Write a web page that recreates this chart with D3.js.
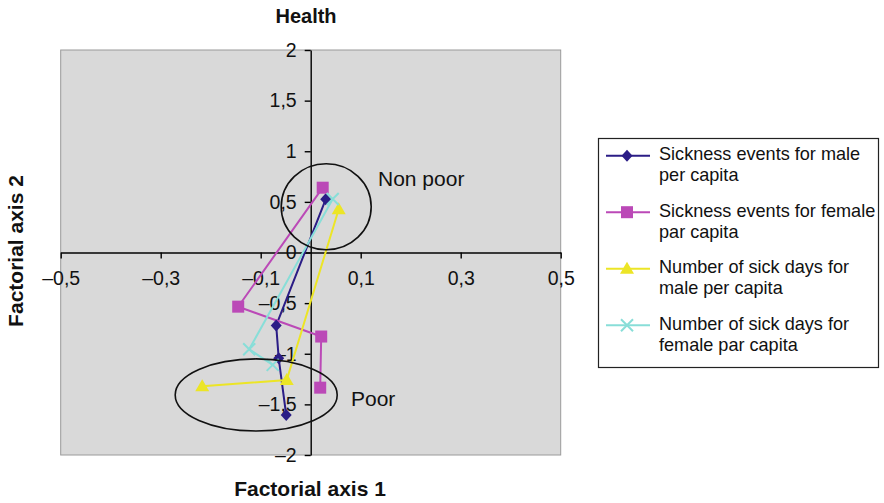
<!DOCTYPE html>
<html>
<head>
<meta charset="utf-8">
<script src="https://cdn.jsdelivr.net/npm/d3@7"></script>
<style>
  html, body { margin: 0; padding: 0; background: #fff; }
  svg { display: block; font-family: "Liberation Sans", Arial, Helvetica, sans-serif; }
</style>
</head>
<body>
<svg id="chart" width="884" height="503"></svg>
<script>
// Factorial plane coordinates for each health indicator (poor -> non poor groups)
const seriesNames = [
  ["Sickness events for male", "per capita"],
  ["Sickness events for female", "par capita"],
  ["Number of sick days for", "male per capita"],
  ["Number of sick days for", "female par capita"]
];
const maleEventsX   = [0.030, -0.069, -0.064, -0.049];
const maleEventsY   = [0.525, -0.720, -1.045, -1.605];
const femaleEventsX = [0.024, -0.145, 0.021, 0.019];
const femaleEventsY = [0.640, -0.535, -0.830, -1.335];
const maleDaysX     = [0.056, -0.048, -0.217];
const maleDaysY     = [0.427, -1.260, -1.320];
const femaleDaysX   = [0.044, -0.123, -0.076];
const femaleDaysY   = [0.528, -0.956, -1.110];

const xTicks = [-0.5, -0.3, -0.1, 0.1, 0.3, 0.5];
const yTicks = [2, 1.5, 1, 0.5, 0, -0.5, -1, -1.5, -2];

// Group annotations: [centre x, centre y, radius x, radius y] in axis units
const groupLabels = ["Non poor", "Poor"];
const groupEllipses = [
  [0.031, 0.452, 0.090, 0.425],
  [-0.109, -1.407, 0.162, 0.356]
];

const svg = d3.select("#chart");
const plot = { left: 60.7, right: 560.7, top: 50, bottom: 455 };

const x = d3.scaleLinear().domain([-0.5, 0.5]).range([plot.left, plot.right]);
const y = d3.scaleLinear().domain([-2, 2]).range([plot.bottom, plot.top]);

const fmt = v => v === 0 ? "0" : (v < 0 ? "\u2013" : "") + String(Math.abs(v)).replace(".", ",");

// plot background
svg.append("rect")
  .attr("x", plot.left).attr("y", plot.top)
  .attr("width", plot.right - plot.left).attr("height", plot.bottom - plot.top)
  .attr("fill", "#d9d9d9").attr("stroke", "#9a9a9a").attr("stroke-width", 1);

// axes crossing at the origin
const xAxis = svg.append("g")
  .attr("transform", `translate(0,${y(0)})`)
  .call(d3.axisBottom(x).tickValues(xTicks).tickFormat(fmt).tickSize(6).tickSizeOuter(0).tickPadding(12.5));
const yAxis = svg.append("g")
  .attr("transform", `translate(${x(0)},0)`)
  .call(d3.axisLeft(y).tickValues(yTicks).tickFormat(fmt).tickSize(6).tickSizeOuter(0).tickPadding(8));

[xAxis, yAxis].forEach(g => {
  g.select(".domain").attr("stroke", "#000").attr("stroke-width", 1.4);
  g.selectAll(".tick line").attr("stroke", "#000").attr("stroke-width", 1.4);
  g.selectAll(".tick text").attr("fill", "#111").style("font-size", "19.5px")
    .style("font-family", "'Liberation Sans', Arial, sans-serif");
});

// series
const series = [
  { xs: maleEventsX,   ys: maleEventsY,   color: "#2b1d86", marker: "diamond" },
  { xs: femaleEventsX, ys: femaleEventsY, color: "#bb49b7", marker: "square" },
  { xs: maleDaysX,     ys: maleDaysY,     color: "#ece526", marker: "triangle" },
  { xs: femaleDaysX,   ys: femaleDaysY,   color: "#88ded8", marker: "cross" }
];

const line = d3.line().x(d => x(d[0])).y(d => y(d[1]));

function drawMarker(g, type, cx, cy, color) {
  if (type === "diamond") {
    g.append("path").attr("d", `M${cx},${cy-6}L${cx+5.5},${cy}L${cx},${cy+6}L${cx-5.5},${cy}Z`).attr("fill", color);
  } else if (type === "square") {
    g.append("rect").attr("x", cx - 6).attr("y", cy - 6).attr("width", 12).attr("height", 12).attr("fill", color);
  } else if (type === "triangle") {
    g.append("path").attr("d", `M${cx},${cy-7}L${cx+7},${cy+5}L${cx-7},${cy+5}Z`).attr("fill", color);
  } else {
    g.append("path").attr("d", `M${cx-6},${cy-6}L${cx+6},${cy+6}M${cx+6},${cy-6}L${cx-6},${cy+6}`)
      .attr("stroke", color).attr("stroke-width", 2);
  }
}

const seriesLayer = svg.append("g");
series.forEach(s => {
  const pts = s.xs.map((v, i) => [v, s.ys[i]]);
  seriesLayer.append("path").datum(pts).attr("d", line)
    .attr("fill", "none").attr("stroke", s.color).attr("stroke-width", 2);
});
series.forEach(s => {
  s.xs.forEach((v, i) => drawMarker(seriesLayer, s.marker, x(v), y(s.ys[i]), s.color));
});

// group ellipses and labels
groupEllipses.forEach(e => {
  svg.append("ellipse")
    .attr("cx", x(e[0])).attr("cy", y(e[1]))
    .attr("rx", x(e[2]) - x(0)).attr("ry", y(0) - y(e[3]))
    .attr("fill", "none").attr("stroke", "#111").attr("stroke-width", 1.6);
});
svg.append("text").attr("x", 378).attr("y", 186).text(groupLabels[0])
  .attr("fill", "#111").style("font-size", "21px");
svg.append("text").attr("x", 351).attr("y", 406).text(groupLabels[1])
  .attr("fill", "#111").style("font-size", "21px");

// titles
svg.append("text").attr("x", 306).attr("y", 23).attr("text-anchor", "middle")
  .style("font-size", "20px").style("font-weight", "bold").attr("fill", "#111").text("Health");
svg.append("text").attr("x", 310).attr("y", 496).attr("text-anchor", "middle")
  .style("font-size", "21px").style("font-weight", "bold").attr("fill", "#111").text("Factorial axis 1");
svg.append("text").attr("transform", "translate(23,251) rotate(-90)").attr("text-anchor", "middle")
  .style("font-size", "21px").style("font-weight", "bold").attr("fill", "#111").text("Factorial axis 2");

// legend
const legend = svg.append("g");
legend.append("rect").attr("x", 598.5).attr("y", 138.5).attr("width", 280).attr("height", 229)
  .attr("fill", "#fff").attr("stroke", "#222").attr("stroke-width", 1.2);
series.forEach((s, i) => {
  const ly = 155.7 + i * 56.5;
  legend.append("line").attr("x1", 606).attr("x2", 650).attr("y1", ly).attr("y2", ly)
    .attr("stroke", s.color).attr("stroke-width", 2);
  drawMarker(legend, s.marker, 627, ly, s.color);
  const t = legend.append("text").attr("x", 659).attr("y", ly + 4.5).attr("fill", "#111").style("font-size", "18.1px");
  seriesNames[i].forEach((ln, j) => t.append("tspan").attr("x", 659).attr("dy", j === 0 ? 0 : 21).text(ln));
});
</script>
</body>
</html>
